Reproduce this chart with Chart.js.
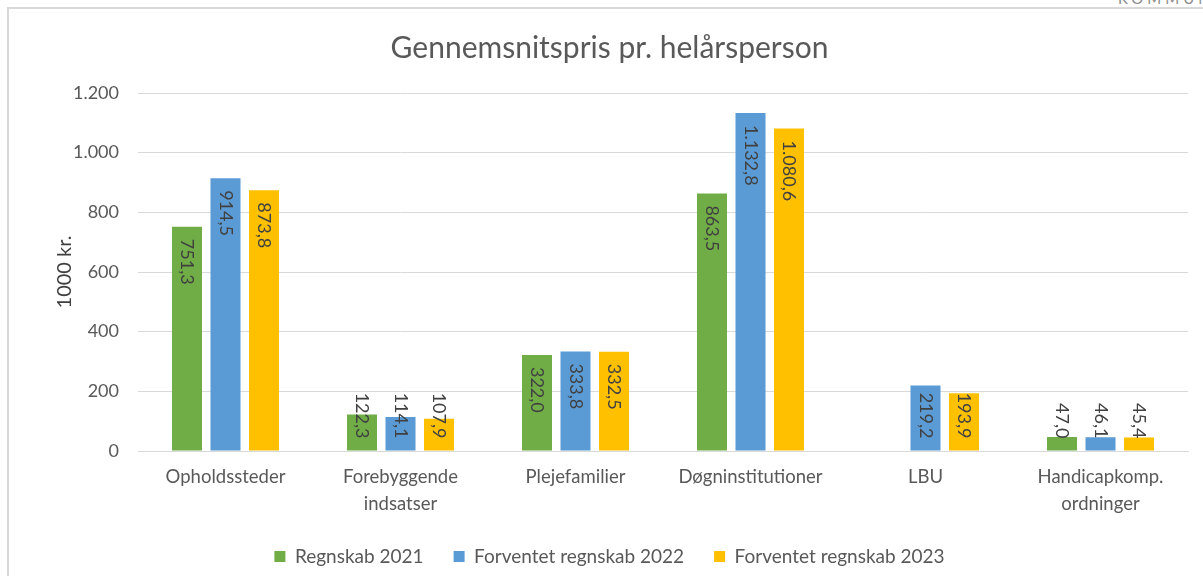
<!DOCTYPE html>
<html lang="da">
<head>
<meta charset="utf-8">
<title>Gennemsnitspris pr. helårsperson</title>
<script src="https://cdn.jsdelivr.net/npm/chart.js@4.4.1/dist/chart.umd.min.js"></script>
<style>
    html, body { margin: 0; padding: 0; background: #fff; overflow: hidden; }
    body { width: 1203px; height: 576px; position: relative; font-family: Lato, "Liberation Sans", sans-serif; }
    .frame { position: absolute; left: 7px; top: 7px; width: 1400px; height: 800px; border: 2px solid #d9d9d9; }
    .corner { position: absolute; left: 1118px; top: -11px; font-size: 15px; letter-spacing: 4px; color: #8c8c8c; }
    #chartWrap { position: absolute; left: 0; top: 0; width: 1203px; height: 576px; }
</style>
</head>
<body>
<div class="corner">KOMMUNE</div>
<div class="frame"></div>
<div id="chartWrap"><canvas id="priceChart" width="1203" height="576"></canvas></div>

<script>
// Data
const categories = ['Opholdssteder', ['Forebyggende', 'indsatser'], 'Plejefamilier', 'Døgninstitutioner', 'LBU', ['Handicapkomp.', 'ordninger']];
const regnskab2021 = [751.3, 122.3, 322.0, 863.5, null, 47.0];
const forventet2022 = [914.5, 114.1, 333.8, 1132.8, 219.2, 46.1];
const forventet2023 = [873.8, 107.9, 332.5, 1080.6, 193.9, 45.4];
const yTicksMax = 1200;
const yTicksStep = 200;

const FONT = 'Lato, "Liberation Sans", sans-serif';
const TEXT_GREY = '#595959';
const GRID_GREY = '#d9d9d9';

// Danish number format: 1.132,8
function formatDanish(value, decimals) {
    const fixed = Number(value).toFixed(decimals);
    const parts = fixed.split('.');
    const intPart = parts[0].replace(/\B(?=(\d{3})+(?!\d))/g, '.');
    return parts.length > 1 ? intPart + ',' + parts[1] : intPart;
}

// Rotated value labels inside the top of each bar
const barValueLabels = {
    id: 'barValueLabels',
    afterDatasetsDraw(chart) {
        const ctx = chart.ctx;
        const pad = 12;
        ctx.save();
        ctx.font = '18px ' + FONT;
        ctx.fillStyle = '#404040';
        ctx.textAlign = 'left';
        ctx.textBaseline = 'middle';
        chart.data.datasets.forEach((dataset, i) => {
            const meta = chart.getDatasetMeta(i);
            meta.data.forEach((bar, j) => {
                const value = dataset.data[j];
                if (value === null || value === undefined) return;
                const text = formatDanish(value, 1);
                const w = ctx.measureText(text).width;
                const start = Math.min(bar.y + pad, bar.base - pad - w);
                ctx.save();
                ctx.translate(bar.x, start);
                ctx.rotate(Math.PI / 2);
                ctx.fillText(text, 0, 0);
                ctx.restore();
            });
        });
        ctx.restore();
    }
};

function initializePriceChart() {
    const ctx = document.getElementById('priceChart');
    new Chart(ctx, {
        type: 'bar',
        data: {
            labels: categories,
            datasets: [{
                label: 'Regnskab 2021',
                data: regnskab2021,
                backgroundColor: '#70ad47'
            }, {
                label: 'Forventet regnskab 2022',
                data: forventet2022,
                backgroundColor: '#5b9bd5'
            }, {
                label: 'Forventet regnskab 2023',
                data: forventet2023,
                backgroundColor: '#ffc000'
            }]
        },
        options: {
            responsive: false,
            animation: false,
            categoryPercentage: 0.66,
            barPercentage: 0.78,
            layout: { padding: { left: 16, right: 0, top: 0, bottom: 0 } },
            scales: {
                x: {
                    grid: { display: false, drawTicks: false },
                    border: { display: true, color: GRID_GREY, width: 1 },
                    ticks: {
                        color: TEXT_GREY,
                        font: { family: FONT, size: 18.5, lineHeight: 1.45 },
                        padding: 13,
                        maxRotation: 0,
                        autoSkip: false
                    },
                    afterFit(scale) { scale.height = 66; }
                },
                y: {
                    min: 0,
                    max: yTicksMax,
                    ticks: {
                        stepSize: yTicksStep,
                        color: TEXT_GREY,
                        font: { family: FONT, size: 18 },
                        padding: 19,
                        callback: value => formatDanish(value, 0)
                    },
                    grid: { color: GRID_GREY, lineWidth: 1, drawTicks: false },
                    border: { display: false },
                    title: {
                        display: true,
                        text: '1000 kr.',
                        color: '#404040',
                        font: { family: FONT, size: 20 },
                        padding: { top: 37, bottom: 0 }
                    },
                    afterFit(scale) { scale.width = 122; }
                },
                yRight: {
                    position: 'right',
                    display: true,
                    grid: { display: false, drawTicks: false },
                    border: { display: false },
                    ticks: { display: false },
                    afterFit(scale) { scale.width = 15; }
                }
            },
            plugins: {
                title: {
                    display: true,
                    text: 'Gennemsnitspris pr. helårsperson',
                    color: TEXT_GREY,
                    font: { family: FONT, size: 30, weight: 'normal' },
                    padding: { top: 30, bottom: 27 }
                },
                legend: {
                    position: 'bottom',
                    labels: {
                        color: TEXT_GREY,
                        font: { family: FONT, size: 19 },
                        boxWidth: 11,
                        boxHeight: 11,
                        padding: 30
                    }
                },
                tooltip: { enabled: false }
            }
        },
        plugins: [barValueLabels]
    });
}

document.addEventListener('DOMContentLoaded', function() {
    initializePriceChart();
});
</script>
</body>
</html>
